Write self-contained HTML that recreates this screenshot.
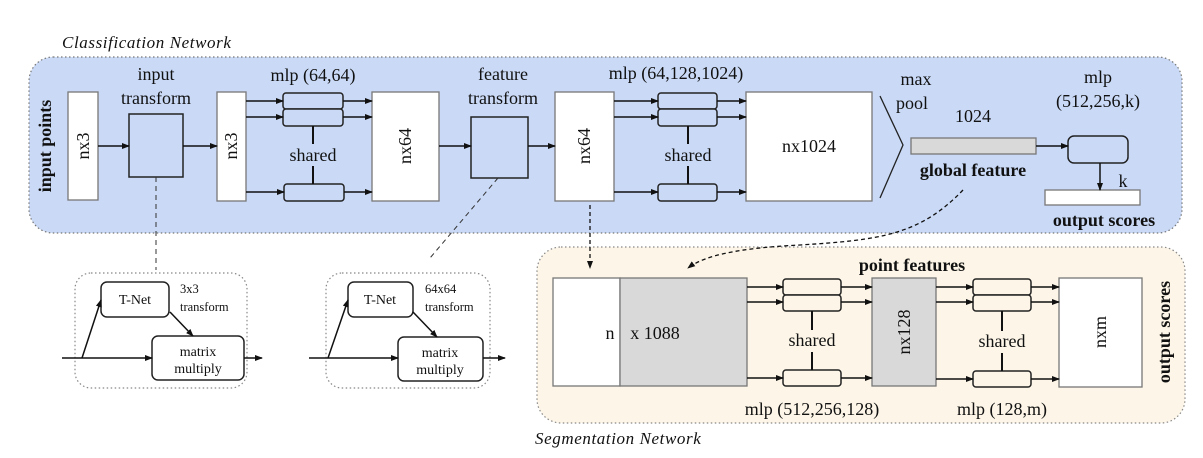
<!DOCTYPE html>
<html><head><meta charset="utf-8"><style>
html,body{margin:0;padding:0;background:#fff;}
svg{display:block;}
text{font-family:"Liberation Serif",serif;fill:#111;}
.b{font-weight:bold;}
</style></head><body>
<svg width="1203" height="458" viewBox="0 0 1203 458" xmlns="http://www.w3.org/2000/svg">
<defs>
<marker id="a" markerWidth="8" markerHeight="8" refX="7" refY="4" orient="auto" markerUnits="userSpaceOnUse"><path d="M0,1 L8,4 L0,7 z" fill="#111"/></marker>
</defs>
<!-- Classification box -->
<rect x="29" y="57" width="1153" height="176" rx="24" fill="#c9d9f6" stroke="#777" stroke-width="1.2" stroke-dasharray="1.5,2.5"/>
<text x="62" y="48" font-size="17" font-style="italic" letter-spacing="0.6">Classification Network</text>
<text transform="translate(51,146) rotate(-90)" text-anchor="middle" font-size="18" class="b">input points</text>

<g stroke="#777" stroke-width="1.3" fill="#fff">
<rect x="68" y="92" width="30" height="108"/>
<rect x="217" y="92" width="29" height="109"/>
<rect x="372" y="92" width="67" height="109"/>
<rect x="555" y="92" width="59" height="109"/>
<rect x="746" y="92" width="126" height="109"/>
</g>
<g font-size="18" text-anchor="middle">
<text transform="translate(89,146) rotate(-90)">nx3</text>
<text transform="translate(237,146) rotate(-90)">nx3</text>
<text transform="translate(411,146) rotate(-90)">nx64</text>
<text transform="translate(590,146) rotate(-90)">nx64</text>
<text x="809" y="152">nx1024</text>
<text x="156" y="80">input</text>
<text x="156" y="104">transform</text>
<text x="313" y="81">mlp (64,64)</text>
<text x="503" y="80">feature</text>
<text x="503" y="104">transform</text>
<text x="676" y="79">mlp (64,128,1024)</text>
<text x="313" y="161">shared</text>
<text x="688" y="161">shared</text>
<text x="916" y="85">max</text>
<text x="912" y="109">pool</text>
<text x="973" y="122">1024</text>
<text x="1098" y="83">mlp</text>
<text x="1098" y="107">(512,256,k)</text>
<text x="1123" y="187">k</text>
<text x="973" y="176" class="b">global feature</text>
<text x="1104" y="226" class="b">output scores</text>
</g>
<g stroke="#222" stroke-width="1.5" fill="#c9d9f6">
<rect x="129" y="114" width="54" height="63"/>
<rect x="471" y="117" width="57" height="61"/>
<rect x="283" y="93" width="60" height="16" rx="3"/>
<rect x="283" y="109" width="60" height="17" rx="3"/>
<rect x="284" y="184" width="60" height="17" rx="3"/>
<rect x="658" y="93" width="59" height="16" rx="3"/>
<rect x="658" y="109" width="59" height="17" rx="3"/>
<rect x="658" y="184" width="59" height="17" rx="3"/>
<rect x="1068" y="136" width="60" height="27" rx="6"/>
</g>
<rect x="911" y="138" width="125" height="16" fill="#d9d9d9" stroke="#777" stroke-width="1.3"/>
<rect x="1045" y="190" width="95" height="15" fill="#fff" stroke="#777" stroke-width="1.3"/>
<path d="M880,96 L903,145 L880,198" fill="none" stroke="#222" stroke-width="1.3"/>
<g stroke="#111" stroke-width="1.5" fill="none" marker-end="url(#a)">
<line x1="98" y1="146" x2="129" y2="146"/>
<line x1="183" y1="146" x2="217" y2="146"/>
<line x1="439" y1="146" x2="471" y2="146"/>
<line x1="528" y1="146" x2="555" y2="146"/>
<line x1="246" y1="101" x2="283" y2="101"/>
<line x1="246" y1="117" x2="283" y2="117"/>
<line x1="246" y1="192" x2="284" y2="192"/>
<line x1="343" y1="101" x2="372" y2="101"/>
<line x1="343" y1="117" x2="372" y2="117"/>
<line x1="344" y1="192" x2="372" y2="192"/>
<line x1="614" y1="101" x2="658" y2="101"/>
<line x1="614" y1="117" x2="658" y2="117"/>
<line x1="614" y1="192" x2="658" y2="192"/>
<line x1="717" y1="101" x2="746" y2="101"/>
<line x1="717" y1="117" x2="746" y2="117"/>
<line x1="717" y1="192" x2="746" y2="192"/>
<line x1="1036" y1="146" x2="1068" y2="146"/>
<line x1="1100" y1="163" x2="1100" y2="190"/>
</g>
<g stroke="#111" stroke-width="2">
<line x1="313" y1="126" x2="313" y2="144"/><line x1="313" y1="166" x2="313" y2="184"/>
<line x1="688" y1="126" x2="688" y2="144"/><line x1="688" y1="166" x2="688" y2="184"/>
</g>

<!-- T-Net boxes -->
<g fill="none" stroke="#888" stroke-width="1.2" stroke-dasharray="1.5,2.5">
<rect x="75" y="273" width="172" height="115" rx="16"/>
<rect x="326" y="273" width="164" height="115" rx="16"/>
</g>
<g stroke="#222" stroke-width="1.5" fill="#fff">
<rect x="101" y="282" width="68" height="35" rx="6"/>
<rect x="152" y="336" width="92" height="44" rx="6"/>
<rect x="348" y="282" width="65" height="35" rx="6"/>
<rect x="398" y="337" width="85" height="44" rx="6"/>
</g>
<g stroke="#111" stroke-width="1.5" fill="none" marker-end="url(#a)">
<line x1="62" y1="358" x2="152" y2="358"/>
<line x1="82" y1="358" x2="101" y2="300"/>
<line x1="170" y1="312" x2="193" y2="336"/>
<line x1="244" y1="358" x2="262" y2="358"/>
<line x1="309" y1="358" x2="398" y2="358"/>
<line x1="328" y1="358" x2="348" y2="300"/>
<line x1="413" y1="312" x2="437" y2="337"/>
<line x1="483" y1="358" x2="505" y2="358"/>
</g>
<g font-size="14" text-anchor="middle">
<text x="135" y="304">T-Net</text>
<text x="198" y="356">matrix</text>
<text x="198" y="373">multiply</text>
<text x="380" y="304">T-Net</text>
<text x="440" y="357">matrix</text>
<text x="440" y="374">multiply</text>
</g>
<g font-size="12.5">
<text x="180" y="293">3x3</text>
<text x="180" y="311">transform</text>
<text x="425" y="293">64x64</text>
<text x="425" y="311">transform</text>
</g>

<!-- Segmentation box -->
<rect x="537" y="247" width="648" height="176" rx="24" fill="#fdf6e8" stroke="#888" stroke-width="1.2" stroke-dasharray="1.5,2.5"/>
<text x="535" y="444" font-size="17" font-style="italic" letter-spacing="0.6">Segmentation Network</text>
<rect x="553" y="278" width="67" height="108" fill="#fff" stroke="#777" stroke-width="1.3"/>
<rect x="620" y="278" width="127" height="108" fill="#d9d9d9" stroke="#777" stroke-width="1.3"/>
<rect x="872" y="278" width="64" height="108" fill="#d9d9d9" stroke="#777" stroke-width="1.3"/>
<rect x="1059" y="278" width="83" height="109" fill="#fff" stroke="#777" stroke-width="1.3"/>
<g stroke="#222" stroke-width="1.5" fill="#fdf6e8">
<rect x="783" y="279" width="58" height="16" rx="3"/>
<rect x="783" y="295" width="58" height="16" rx="3"/>
<rect x="783" y="370" width="58" height="16" rx="3"/>
<rect x="973" y="279" width="58" height="16" rx="3"/>
<rect x="973" y="295" width="58" height="16" rx="3"/>
<rect x="973" y="371" width="58" height="16" rx="3"/>
</g>
<g stroke="#111" stroke-width="1.5" fill="none" marker-end="url(#a)">
<line x1="747" y1="287" x2="783" y2="287"/>
<line x1="747" y1="302" x2="783" y2="302"/>
<line x1="747" y1="378" x2="783" y2="378"/>
<line x1="841" y1="287" x2="872" y2="287"/>
<line x1="841" y1="302" x2="872" y2="302"/>
<line x1="841" y1="378" x2="872" y2="378"/>
<line x1="936" y1="287" x2="973" y2="287"/>
<line x1="936" y1="302" x2="973" y2="302"/>
<line x1="936" y1="379" x2="973" y2="379"/>
<line x1="1031" y1="287" x2="1059" y2="287"/>
<line x1="1031" y1="302" x2="1059" y2="302"/>
<line x1="1031" y1="379" x2="1059" y2="379"/>
</g>
<g stroke="#111" stroke-width="2">
<line x1="812" y1="311" x2="812" y2="330"/><line x1="812" y1="352" x2="812" y2="370"/>
<line x1="1002" y1="311" x2="1002" y2="331"/><line x1="1002" y1="353" x2="1002" y2="371"/>
</g>
<g font-size="18" text-anchor="middle">
<text x="912" y="271" class="b">point features</text>
<text x="610" y="339">n</text>
<text x="655" y="339">x 1088</text>
<text x="812" y="346">shared</text>
<text x="1002" y="347">shared</text>
<text transform="translate(910,332) rotate(-90)">nx128</text>
<text transform="translate(1106,332) rotate(-90)">nxm</text>
<text transform="translate(1170,332) rotate(-90)" class="b">output scores</text>
<text x="812" y="415">mlp (512,256,128)</text>
<text x="1002" y="415">mlp (128,m)</text>
</g>

<!-- dashed connectors (on top) -->
<g stroke="#333" stroke-width="1" fill="none" stroke-dasharray="5,4">
<line x1="156" y1="177" x2="156" y2="270"/>
<line x1="498" y1="178" x2="430" y2="258"/>
</g>
<g stroke="#111" stroke-width="1.3" fill="none" stroke-dasharray="4,3">
<line x1="590" y1="205" x2="590" y2="268" marker-end="url(#a)"/>
<path d="M963,190 C920,235 880,240 800,245 C740,248 705,255 688,268" marker-end="url(#a)"/>
</g>
</svg>
</body></html>
